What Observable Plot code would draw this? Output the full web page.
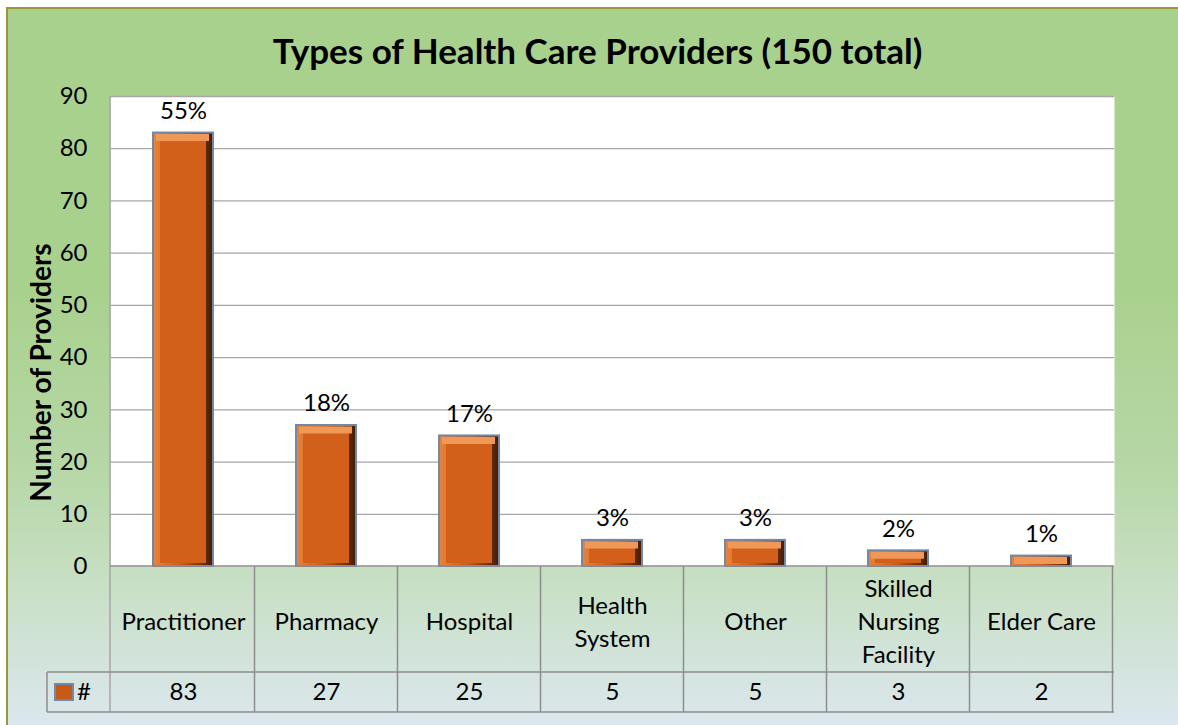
<!DOCTYPE html>
<html>
<head>
<meta charset="utf-8">
<script src="https://cdn.jsdelivr.net/npm/d3@7"></script>
<script src="https://cdn.jsdelivr.net/npm/@observablehq/plot@0.6"></script>
<style>
  html, body { margin: 0; padding: 0; background: #ffffff; }
  #wrap { position: relative; width: 1178px; height: 725px; overflow: hidden; color: #000; font-family: Lato, "Open Sans", sans-serif; }
  #bg { position: absolute; left: 6px; top: 7px; width: 1200px; height: 740px;
        border-left: 2px solid #9d9638; border-top: 2px solid #9d9638;
        background: linear-gradient(to bottom, #a9d18e 0%, #a9d18e 38%, #b6d7a6 62%, #c8e0c5 78%, #dfe8f5 100%); }
  #chart { position: absolute; left: 0; top: 0; }
</style>
</head>
<body>
<div id="wrap"><div id="bg"></div><div id="chart"></div></div>
<script>
const categories = ["Practitioner", "Pharmacy", "Hospital", "Health System", "Other", "Skilled Nursing Facility", "Elder Care"];
const categoryLabels = ["Practitioner", "Pharmacy", "Hospital", "Health\nSystem", "Other", "Skilled\nNursing\nFacility", "Elder Care"];
const counts = [83, 27, 25, 5, 5, 3, 2];
const percentLabels = ["55%", "18%", "17%", "3%", "3%", "2%", "1%"];
const yTicks = [0, 10, 20, 30, 40, 50, 60, 70, 80, 90];
const titleText = "Types of Health Care Providers (150 total)";
const yLabel = "Number of Providers";
const seriesName = "#";

const data = categories.map((c, i) => ({category: c, label: categoryLabels[i], count: counts[i], pct: percentLabels[i]}));

const FONT = 'Lato, "Open Sans", sans-serif';
const FS = 24;
const chart = Plot.plot({
  width: 1178,
  height: 725,
  marginLeft: 110,
  marginRight: 64,
  marginTop: 96,
  marginBottom: 159,
  style: {background: "transparent", overflow: "visible", fontFamily: FONT, color: "#000"},
  x: {type: "band", domain: categories, paddingInner: 0.58, paddingOuter: 0.29, axis: null},
  y: {domain: [0, 90], axis: null},
  marks: [
    Plot.frame({fill: "white", stroke: null}),
    Plot.ruleY(yTicks.slice(1), {stroke: "#a6a6a6", strokeWidth: 1.3}),
    Plot.axisY({ticks: yTicks, tickSize: 0, tickPadding: 23, fontSize: FS, label: null, tickFormat: d => String(d)}),
    Plot.text([yLabel], {frameAnchor: "left", textAnchor: "middle", dx: -68, dy: 41, rotate: -90, fontWeight: "bold", fontSize: 28, fill: "#000"}),
    Plot.text([titleText], {frameAnchor: "top", dx: -15, dy: -44, lineAnchor: "middle", fontWeight: "bold", fontSize: 35, fill: "#000"}),
    Plot.barY(data, {x: "category", y: "count", fill: "url(#barGrad)", stroke: "#7388a6", strokeWidth: 2}),
    Plot.barY(data, {x: "category", y: "count", fill: "#d2601b", insetLeft: 7, insetRight: 7, insetTop: 7, insetBottom: 3}),
    Plot.tickY(data, {x: "category", y: "count", dy: 4.5, stroke: "#ef9858", strokeWidth: 7, insetLeft: 3, insetRight: 4}),
    Plot.text(data, {x: "category", y: "count", text: "pct", dy: -22, fontSize: FS, fill: "#000"}),
    Plot.text(data, {x: "category", frameAnchor: "bottom", text: "label", dy: 53, lineAnchor: "middle", fontSize: FS, lineHeight: 1.38, fill: "#000"}),
    Plot.text(data, {x: "category", frameAnchor: "bottom", text: d => String(d.count), dy: 126, lineAnchor: "middle", fontSize: FS, fill: "#000"})
  ]
});

// gradient defs for bars
const svg = d3.select(chart);
const defs = svg.insert("defs", ":first-child");
const g = defs.append("linearGradient").attr("id", "barGrad").attr("x1", 0).attr("x2", 1).attr("y1", 0).attr("y2", 0);
g.append("stop").attr("offset", "0%").attr("stop-color", "#e8843c");
g.append("stop").attr("offset", "50%").attr("stop-color", "#c85a18");
g.append("stop").attr("offset", "100%").attr("stop-color", "#3f1c06");

// data table drawn from the chart's scales
const xs = chart.scale("x"), ys = chart.scale("y");
const step = xs.step;
const left = xs.range[0], right = xs.range[1];
const top0 = ys.apply(0), frameTop = ys.apply(90);
const row1 = top0 + 106, row2 = top0 + 146;
const lines = svg.append("g").attr("stroke", "#8c8c8c").attr("stroke-width", 1.5).attr("fill", "none");
lines.append("line").attr("x1", left).attr("x2", left).attr("y1", frameTop).attr("y2", row2).attr("stroke", "#a6a6a6");
lines.append("line").attr("x1", left).attr("x2", right).attr("y1", top0).attr("y2", top0);
lines.append("line").attr("x1", left - 63).attr("x2", right).attr("y1", row1).attr("y2", row1);
lines.append("line").attr("x1", left - 63).attr("x2", right).attr("y1", row2).attr("y2", row2);
lines.append("line").attr("x1", left - 63).attr("x2", left - 63).attr("y1", row1).attr("y2", row2);
categories.forEach((c, i) => {
  const cx = xs.apply(c) + xs.bandwidth / 2;
  const xr = cx + step / 2;
  lines.append("line").attr("x1", xr).attr("x2", xr).attr("y1", top0).attr("y2", row2);
});
// legend key in table
const lg = svg.append("g");
lg.append("rect").attr("x", left - 55).attr("y", row1 + 12).attr("width", 18).attr("height", 16)
  .attr("fill", "#c85a18").attr("stroke", "#7388a6").attr("stroke-width", 2);
lg.append("text").attr("x", left - 26).attr("y", row1 + 20).attr("dy", "0.35em").attr("font-size", FS)
  .attr("font-family", FONT).attr("fill", "#000").text(seriesName);

document.getElementById("chart").appendChild(chart);
</script>
</body>
</html>
